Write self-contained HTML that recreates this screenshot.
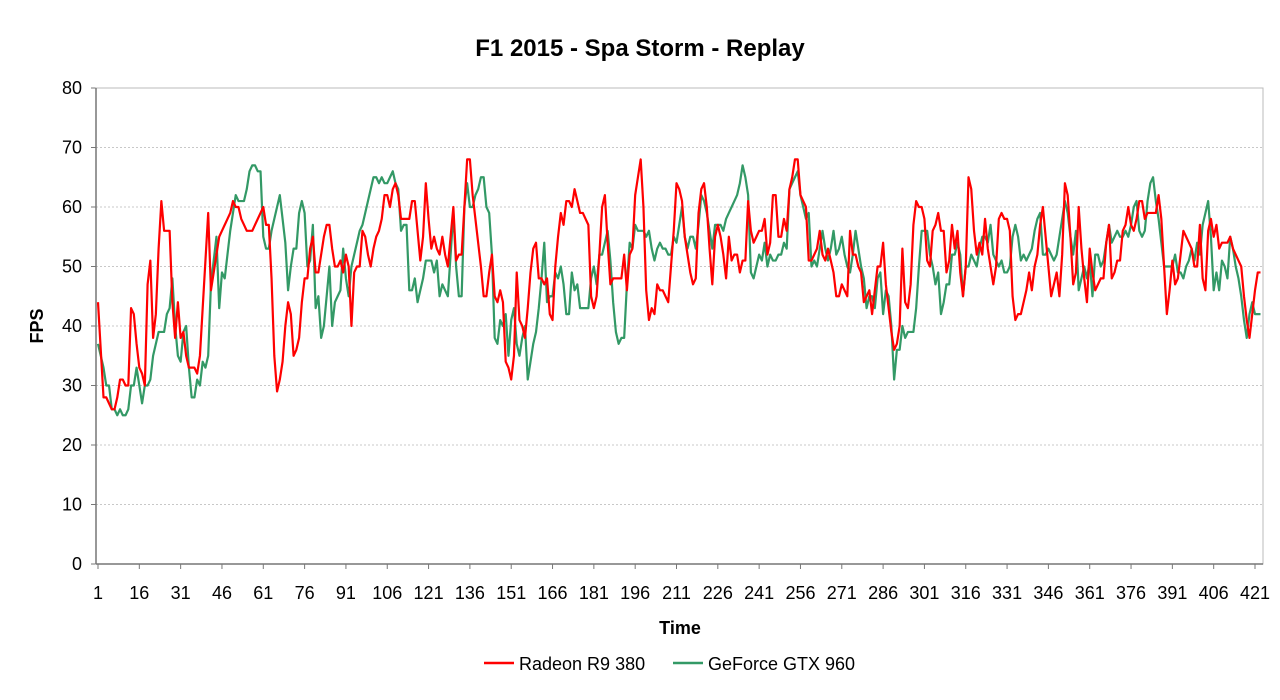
<!DOCTYPE html>
<html><head><meta charset="utf-8"><style>
body{margin:0;background:#fff;}
svg{display:block;font-family:"Liberation Sans",Arial,sans-serif;}
</style></head><body>
<svg id="chart" width="1280" height="700" viewBox="0 0 1280 700">
<text x="640" y="56" text-anchor="middle" font-size="24" font-weight="bold">F1 2015 - Spa Storm - Replay</text>
<g id="grid"></g>
<g id="yaxis"></g>
<g id="xaxis"></g>
<rect x="96" y="88" width="1167" height="476" fill="none" stroke="#bbb" stroke-width="1"/>
<line x1="96" y1="88" x2="96" y2="564" stroke="#777" stroke-width="1.5"/>
<line x1="96" y1="564" x2="1263" y2="564" stroke="#777" stroke-width="1.5"/>
<g id="series"></g>
<text transform="translate(43,326) rotate(-90)" text-anchor="middle" font-size="18" font-weight="bold">FPS</text>
<text x="680" y="634" text-anchor="middle" font-size="18" font-weight="bold">Time</text>
<g>
<g>
<line x1="484" y1="663" x2="514" y2="663" stroke="#ff0000" stroke-width="2.5"/>
<text x="519" y="670" font-size="18">Radeon R9 380</text></g>
<g>
<line x1="673" y1="663" x2="703" y2="663" stroke="#339966" stroke-width="2.5"/>
<text x="708" y="670" font-size="18">GeForce GTX 960</text></g>
</g>
</svg>
<script>
const yTicks=[0,10,20,30,40,50,60,70,80];
const radeon=[44,36,28,28,27,26,26,28,31,31,30,30,43,42,37,33,32,30,47,51,38,42,53,61,56,56,56,44,38,44,38,39,35,33,33,33,32,35,43,51,59,46,49,52,55,56,57,58,59,61,60,60,58,57,56,56,56,57,58,59,60,57,57,48,35,29,31,34,40,44,42,35,36,38,44,48,48,53,55,49,49,52,55,57,57,53,50,50,51,49,52,50,40,49,50,50,56,55,52,50,53,55,56,58,62,62,60,63,64,62,58,58,58,58,61,61,56,51,55,64,58,53,55,53,52,55,52,50,55,60,51,52,52,60,68,68,62,58,54,50,45,45,49,52,45,44,46,44,34,33,31,35,49,41,40,38,43,49,53,54,48,48,47,48,42,41,50,55,59,57,61,61,60,63,61,59,59,58,57,45,43,45,52,60,62,54,47,48,48,48,48,52,46,52,53,62,65,68,60,46,41,43,42,47,46,46,45,44,50,56,64,63,61,55,52,49,47,48,59,63,64,60,53,47,55,57,55,52,48,55,51,52,52,49,51,51,61,56,54,55,56,56,58,52,54,62,62,55,55,58,56,63,65,68,68,62,61,60,51,51,52,53,56,52,51,53,51,49,45,45,47,46,45,56,52,52,50,49,44,45,46,42,46,50,50,54,47,43,39,36,37,40,53,44,43,47,57,61,60,60,58,51,50,56,57,59,56,56,49,51,57,53,56,49,45,50,65,63,56,52,54,52,58,53,50,47,50,58,59,58,58,56,45,41,42,42,44,46,49,46,50,52,57,60,55,50,45,47,49,45,52,64,62,55,47,49,60,53,48,44,53,49,46,47,48,48,54,57,48,49,51,51,56,57,60,57,56,58,61,61,58,59,59,59,59,62,58,50,42,46,51,47,48,52,56,55,54,53,50,50,57,48,46,56,58,55,57,53,54,54,54,55,53,52,51,50,45,41,38,42,46,49,49];
const geforce=[37,35,33,30,30,26,26,25,26,25,25,26,30,30,33,30,27,30,30,31,35,37,39,39,39,42,43,48,40,35,34,39,40,33,28,28,31,30,34,33,35,47,51,55,43,49,48,52,56,59,62,61,61,61,63,66,67,67,66,66,55,53,53,56,58,60,62,58,54,46,50,53,53,59,61,59,50,51,57,43,45,38,40,45,50,40,44,45,46,53,48,45,50,52,54,56,57,59,61,63,65,65,64,65,64,64,65,66,64,63,56,57,57,46,46,48,44,46,48,51,51,51,49,51,45,47,46,45,52,59,50,45,45,60,64,60,60,62,63,65,65,60,59,52,38,37,41,40,42,35,41,43,37,35,38,40,31,34,37,39,43,48,54,44,45,45,49,48,50,47,42,42,49,46,47,43,43,43,43,48,50,47,52,52,54,56,51,44,39,37,38,38,47,54,53,57,56,56,56,55,56,53,51,53,54,53,53,52,52,55,54,57,60,55,53,55,55,53,57,62,61,59,56,53,57,57,57,56,58,59,60,61,62,64,67,65,62,49,48,50,52,51,54,50,52,51,51,52,52,54,53,63,64,65,66,62,60,58,59,50,51,50,53,56,53,51,53,56,52,53,55,52,50,49,52,56,53,50,48,43,45,45,43,48,49,42,46,45,40,31,36,36,40,38,39,39,39,43,50,56,56,56,52,50,47,49,42,44,47,47,52,52,54,52,45,50,50,52,51,50,53,55,55,54,57,52,51,50,51,49,49,50,55,57,55,51,52,51,52,53,56,58,59,52,52,53,52,51,52,55,58,61,59,55,52,56,46,48,50,48,51,45,52,52,50,51,54,57,54,55,56,55,55,56,55,57,60,61,56,55,56,61,64,65,61,58,54,50,50,50,50,52,49,49,48,50,51,53,51,54,52,57,59,61,55,46,49,46,51,50,48,55,53,50,48,45,41,38,42,44,42,42,42];
const xLabelStep=15;
const NS="http://www.w3.org/2000/svg";
const L=96,R=1263,T=88,B=564,N=radeon.length;
const STEP=(1255-98)/420;
function xs(i){return 98+i*STEP;}
function ys(v){return B-(v-0)/(80-0)*(B-T);}
function mk(tag,attrs,parent){const e=document.createElementNS(NS,tag);for(const k in attrs)e.setAttribute(k,attrs[k]);parent.appendChild(e);return e;}
const grid=document.getElementById('grid'),ya=document.getElementById('yaxis'),xa=document.getElementById('xaxis'),ser=document.getElementById('series');
yTicks.forEach(v=>{
  if(v>0&&v<80){const g=mk('line',{x1:L,x2:R,y1:ys(v),y2:ys(v),stroke:'#c8c8c8','stroke-dasharray':'2,2'},grid);
  
  }
  const t=mk('text',{x:82,y:ys(v)+6,'text-anchor':'end','font-size':'18'},ya);t.textContent=v;
  
  
  const tk=mk('line',{x1:91,x2:96,y1:ys(v),y2:ys(v),stroke:'#777'},ya);
  
  
});
for(let i=0;i<N;i+=xLabelStep){
  const t=mk('text',{x:xs(i),y:599,'text-anchor':'middle','font-size':'18'},xa);t.textContent=(i+1);
  
  
  const tk=mk('line',{x1:xs(i),x2:xs(i),y1:564,y2:569,stroke:'#777'},xa);
  
  
}
function line(arr,color,name){
  const d=arr.map((v,i)=>(i?'L':'M')+xs(i).toFixed(2)+','+ys(v).toFixed(2)).join('');
  const p=mk('path',{d:d,fill:'none',stroke:color,'stroke-width':'2.2','stroke-linejoin':'round'},ser);
  
  
}
line(geforce,'#339966','geforce-line');
line(radeon,'#ff0000','radeon-line');
</script>
</body></html>
